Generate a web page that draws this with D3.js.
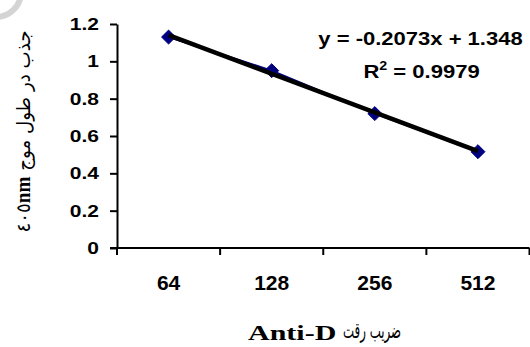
<!DOCTYPE html>
<html>
<head>
<meta charset="utf-8">
<script src="https://cdn.jsdelivr.net/npm/d3@7"></script>
<style>
  html, body { margin: 0; padding: 0; background: #fff; }
  svg { display: block; }
</style>
</head>
<body>
<svg id="chart" width="530" height="347"></svg>
<script>
// ---- data ----
const categories = ["64", "128", "256", "512"];
const absorbance = [1.13, 0.95, 0.72, 0.516];
const trendSlope = [-0.2073];
const trendIntercept = [1.348];
const yTicks = [0, 0.2, 0.4, 0.6, 0.8, 1, 1.2];
const yTickLabels = ["0", "0.2", "0.4", "0.6", "0.8", "1", "1.2"];
const equationText = ["y = -0.2073x + 1.348"];
const r2Text = ["0.9979"];
const xTitleLatin = "Anti-D";
const xTitlePersian = "ضریب رقت";
const yTitleDigits = "٤٠٥";
const yTitleUnit = "nm";
const yTitlePersian = "جذب در طول موج";

(function () {
const svg = d3.select("#chart");
const mLeft = 117, mRight = 529.5, mTop = 24, mBottom = 248;
const boldFont = "'Liberation Sans', Arial, sans-serif";
const serifFont = "'Liberation Serif', 'Times New Roman', serif";

function stretched(px, py, sx, anchor) {
  const g = svg.append("g").attr("transform", `translate(${px},${py}) scale(${sx},1)`);
  return g.append("text").attr("text-anchor", anchor).attr("fill", "#000");
}

// watermark ring (decorative)
svg.append("circle").attr("cx", -4).attr("cy", -8).attr("r", 25)
  .attr("fill", "none").attr("stroke", "#d4d4d4").attr("stroke-width", 6);

const x = d3.scaleBand().domain(categories).range([mLeft, mRight]).padding(0);
const y = d3.scaleLinear().domain([0, 1.2]).range([mBottom, mTop]);

// y axis
const yAxis = d3.axisLeft(y).tickValues(yTicks).tickFormat("").tickSize(7).tickSizeOuter(0);
const gy = svg.append("g").attr("transform", `translate(${mLeft},0)`).call(yAxis);
gy.select(".domain").attr("stroke", "#000").attr("stroke-width", 2);
gy.selectAll(".tick line").attr("stroke", "#000").attr("stroke-width", 2);
gy.selectAll(".tick text").remove();
yTicks.forEach((v, i) => {
  stretched(mLeft - 18, y(v), 1.25, "end")
    .attr("dy", "0.36em").attr("font-family", boldFont).attr("font-weight", "bold")
    .attr("font-size", 16.8).text(yTickLabels[i]);
});

// x axis (category boundaries)
const edges = categories.map(c => x(c)).concat([x.range()[1]]);
svg.append("line").attr("x1", mLeft - 7).attr("x2", mRight).attr("y1", y(0)).attr("y2", y(0))
  .attr("stroke", "#000").attr("stroke-width", 2);
svg.selectAll(".xtick").data(edges).enter().append("line")
  .attr("x1", d => d).attr("x2", d => d).attr("y1", y(0)).attr("y2", y(0) + 7)
  .attr("stroke", "#000").attr("stroke-width", 2);
svg.selectAll(".xlabel").data(categories).enter().append("text")
  .attr("x", d => x(d) + x.bandwidth() / 2).attr("y", 290)
  .attr("text-anchor", "middle").attr("font-family", boldFont).attr("font-weight", "bold")
  .attr("font-size", 21).text(d => d);

// data line
const pts = categories.map((c, i) => [x(c) + x.bandwidth() / 2, y(absorbance[i])]);
svg.append("path").attr("d", d3.line()(pts)).attr("fill", "none")
  .attr("stroke", "#000080").attr("stroke-width", 2);
svg.selectAll(".marker").data(pts).enter().append("path")
  .attr("d", d3.symbol().type(d3.symbolDiamond2).size(125))
  .attr("transform", d => `translate(${d[0]},${d[1]})`)
  .attr("fill", "#000080").attr("stroke", "#000080").attr("stroke-width", 1);

// trend line
const trendPts = categories.map((c, i) => [x(c) + x.bandwidth() / 2, y(trendSlope[0] * (i + 1) + trendIntercept[0])]);
svg.append("path").attr("d", d3.line()([trendPts[0], trendPts[trendPts.length - 1]]))
  .attr("fill", "none").attr("stroke", "#000").attr("stroke-width", 4.5).attr("stroke-linecap", "butt");

// equation
stretched(420.5, 45, 1.19, "middle").attr("font-family", boldFont).attr("font-weight", "bold")
  .attr("font-size", 18.5).text(equationText[0]);
const r2 = stretched(421.5, 77.5, 1.19, "middle").attr("font-family", boldFont)
  .attr("font-weight", "bold").attr("font-size", 18.5);
r2.append("tspan").text("R");
r2.append("tspan").attr("dy", -8).attr("font-size", 12).text("2");
r2.append("tspan").attr("dy", 8).text(" = " + r2Text[0]);

// x title
stretched(248, 340, 1.5, "start").attr("font-family", serifFont).attr("font-weight", "bold")
  .attr("font-size", 20).text(xTitleLatin);
svg.append("text").attr("x", 343).attr("y", 338).attr("text-anchor", "start")
  .attr("font-family", "'DejaVu Sans', sans-serif").attr("font-size", 22)
  .attr("textLength", 58).attr("lengthAdjust", "spacingAndGlyphs").text(xTitlePersian);

// y title
const yt = svg.append("text").attr("transform", "translate(30,131.5) rotate(-90)")
  .attr("text-anchor", "middle")
  .attr("font-family", "'DejaVu Sans', sans-serif").attr("font-size", 19)
  .attr("textLength", 202).attr("lengthAdjust", "spacingAndGlyphs");
yt.append("tspan").text(yTitleDigits);
yt.append("tspan").attr("font-family", serifFont).attr("font-weight", "bold").attr("font-size", 20).text(yTitleUnit);
yt.append("tspan").text(" " + yTitlePersian);
})();
</script>
</body>
</html>
